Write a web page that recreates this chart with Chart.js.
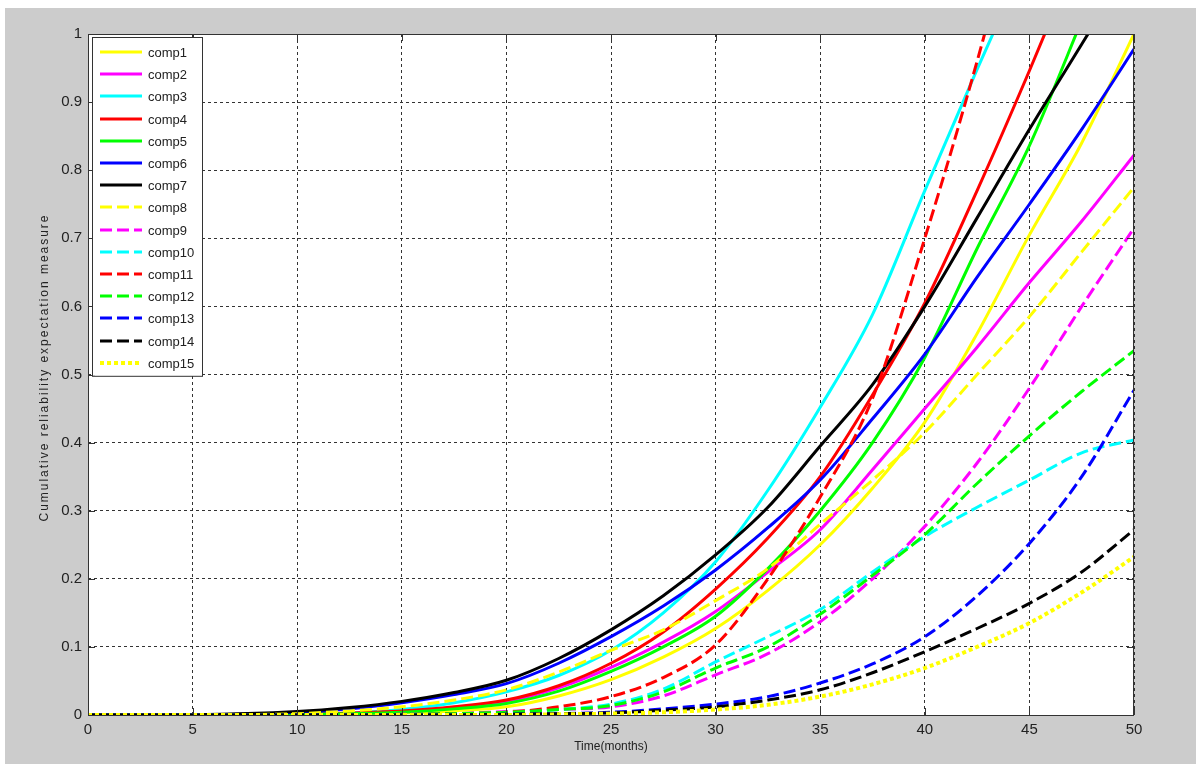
<!DOCTYPE html>
<html>
<head>
<meta charset="utf-8">
<script src="https://cdn.jsdelivr.net/npm/chart.js@4.4.1/dist/chart.umd.min.js"></script>
<style>
html,body{margin:0;padding:0;background:#ffffff;}
canvas{display:block;}
</style>
</head>
<body>
<canvas id="c" width="1196" height="764"></canvas>
<script>
// ---- data ----
const months = [0, 5, 10, 12.5, 15, 17.5, 20, 22.5, 25, 27.5, 30, 32.5, 35, 37.5, 40, 42.5, 45, 47.5, 50];

const comp1  = [0, 0, 0.0005, 0.001, 0.003, 0.006, 0.012, 0.028, 0.052, 0.085, 0.127, 0.183, 0.250, 0.333, 0.430, 0.560, 0.705, 0.840, 1.000];
const comp2  = [0, 0, 0.001, 0.002, 0.005, 0.011, 0.020, 0.040, 0.070, 0.107, 0.152, 0.210, 0.272, 0.360, 0.450, 0.540, 0.635, 0.725, 0.822];
const comp3  = [0, 0, 0.001, 0.003, 0.008, 0.018, 0.034, 0.058, 0.095, 0.150, 0.225, 0.330, 0.452, 0.588, 0.770, 0.948, 1.120, 1.290, 1.460];
const comp4  = [0, 0, 0.001, 0.003, 0.006, 0.012, 0.022, 0.043, 0.076, 0.122, 0.185, 0.260, 0.350, 0.470, 0.605, 0.770, 0.946, 1.130, 1.320];
const comp5  = [0, 0, 0.001, 0.002, 0.004, 0.009, 0.017, 0.035, 0.064, 0.100, 0.145, 0.215, 0.300, 0.400, 0.525, 0.685, 0.836, 1.020, 1.210];
const comp6  = [0, 0, 0.004, 0.009, 0.018, 0.030, 0.046, 0.076, 0.115, 0.160, 0.213, 0.275, 0.345, 0.435, 0.530, 0.643, 0.750, 0.860, 0.978];
const comp7  = [0, 0.0005, 0.005, 0.011, 0.020, 0.033, 0.051, 0.083, 0.125, 0.175, 0.235, 0.305, 0.395, 0.485, 0.600, 0.730, 0.860, 0.985, 1.110];
const comp8  = [0, 0, 0.002, 0.006, 0.012, 0.022, 0.037, 0.063, 0.095, 0.125, 0.168, 0.215, 0.280, 0.345, 0.415, 0.500, 0.585, 0.680, 0.775];
const comp9  = [0, 0, 0, 0, 0.001, 0.002, 0.005, 0.008, 0.012, 0.028, 0.059, 0.090, 0.137, 0.200, 0.277, 0.370, 0.480, 0.600, 0.715];
const comp10 = [0, 0, 0, 0, 0.001, 0.002, 0.003, 0.008, 0.016, 0.038, 0.078, 0.115, 0.155, 0.210, 0.262, 0.305, 0.345, 0.385, 0.404];
const comp11 = [0, 0, 0, 0, 0.001, 0.002, 0.004, 0.012, 0.027, 0.055, 0.103, 0.200, 0.320, 0.465, 0.700, 0.960, 1.250, 1.550, 1.850];
const comp12 = [0, 0, 0, 0, 0.001, 0.002, 0.004, 0.008, 0.014, 0.034, 0.069, 0.100, 0.148, 0.205, 0.265, 0.340, 0.410, 0.475, 0.535];
const comp13 = [0, 0, 0, 0, 0, 0, 0.001, 0.002, 0.004, 0.009, 0.016, 0.027, 0.047, 0.075, 0.115, 0.175, 0.252, 0.350, 0.477];
const comp14 = [0, 0, 0, 0, 0, 0, 0.001, 0.002, 0.003, 0.007, 0.012, 0.022, 0.037, 0.062, 0.093, 0.127, 0.164, 0.210, 0.272];
const comp15 = [0, 0, 0, 0, 0, 0, 0, 0.001, 0.002, 0.004, 0.008, 0.015, 0.027, 0.045, 0.069, 0.100, 0.135, 0.180, 0.232];

const seriesNames = ['comp1','comp2','comp3','comp4','comp5','comp6','comp7','comp8',
                     'comp9','comp10','comp11','comp12','comp13','comp14','comp15'];
const seriesValues = [comp1, comp2, comp3, comp4, comp5, comp6, comp7, comp8,
                      comp9, comp10, comp11, comp12, comp13, comp14, comp15];

const xTicks = [0, 5, 10, 15, 20, 25, 30, 35, 40, 45, 50];
const xTickLabels = ['0','5','10','15','20','25','30','35','40','45','50'];
const yTicks = [0, 0.1, 0.2, 0.3, 0.4, 0.5, 0.6, 0.7, 0.8, 0.9, 1];
const yTickLabels = ['0','0.1','0.2','0.3','0.4','0.5','0.6','0.7','0.8','0.9','1'];
const xTitle = 'Time(months)';
const yTitle = 'Cumulative reliability expectation measure';

// ---- styles ----
const seriesColors = ['#ffff00','#ff00ff','#00ffff','#ff0000','#00ff00','#0000ff','#000000',
                      '#ffff00','#ff00ff','#00ffff','#ff0000','#00ff00','#0000ff','#000000','#ffff00'];
const DASHED = [12, 5], DOTTED = [4, 3];
const seriesDash = [[],[],[],[],[],[],[], DASHED,DASHED,DASHED,DASHED,DASHED,DASHED,DASHED, DOTTED];
const FONT = '"Liberation Sans", Arial, Helvetica, sans-serif';

const datasets = seriesValues.map((vals, i) => ({
  label: seriesNames[i],
  data: months.map((m, j) => ({x: m, y: vals[j]})),
  borderColor: seriesColors[i],
  backgroundColor: seriesColors[i],
  borderWidth: i === 14 ? 4 : 3,
  borderDash: seriesDash[i],
  borderCapStyle: 'butt',
  pointRadius: 0,
  fill: false,
  cubicInterpolationMode: 'monotone',
  clip: 0,
  order: 14 - i
}));

const backgroundPlugin = {
  id: 'bg',
  beforeDraw(chart) {
    const {ctx, width, height, chartArea: a} = chart;
    ctx.save();
    ctx.fillStyle = '#ffffff';
    ctx.fillRect(0, 0, width, height);
    ctx.fillStyle = '#cccccc';
    ctx.fillRect(5, 8, width - 5, height - 8);
    ctx.fillStyle = '#ffffff';
    ctx.fillRect(a.left, a.top, a.right - a.left, a.bottom - a.top);
    ctx.restore();
  }
};

const boxPlugin = {
  id: 'box',
  afterDatasetsDraw(chart) {
    const {ctx, chartArea: a, scales} = chart;
    ctx.save();
    ctx.strokeStyle = '#333333';
    ctx.lineWidth = 1;
    ctx.setLineDash([]);
    ctx.strokeRect(a.left + 0.5, a.top + 0.5, a.right - a.left - 1, a.bottom - a.top);
    const tl = 7;
    ctx.beginPath();
    xTicks.forEach(v => {
      const px = Math.round(scales.x.getPixelForValue(v)) + 0.5;
      ctx.moveTo(px, a.bottom); ctx.lineTo(px, a.bottom - tl);
      ctx.moveTo(px, a.top); ctx.lineTo(px, a.top + tl);
    });
    yTicks.forEach(v => {
      const py = Math.round(scales.y.getPixelForValue(v)) + 0.5;
      ctx.moveTo(a.left, py); ctx.lineTo(a.left + tl, py);
      ctx.moveTo(a.right, py); ctx.lineTo(a.right - tl, py);
    });
    ctx.stroke();
    ctx.restore();
  }
};

const yTitlePlugin = {
  id: 'yTitle',
  afterDraw(chart) {
    const {ctx, chartArea: a} = chart;
    ctx.save();
    ctx.font = '12px ' + FONT;
    ctx.fillStyle = '#222222';
    ctx.textAlign = 'center';
    ctx.textBaseline = 'middle';
    const w0 = ctx.measureText(yTitle).width;
    const target = 306;
    if ('letterSpacing' in ctx) {
      ctx.letterSpacing = Math.max(0, (target - w0) / (yTitle.length - 1)).toFixed(2) + 'px';
    }
    ctx.translate(45, (a.top + a.bottom) / 2 - 7);
    ctx.rotate(-Math.PI / 2);
    ctx.fillText(yTitle, 0, 0);
    ctx.restore();
  }
};

const legendPlugin = {
  id: 'matlabLegend',
  afterDraw(chart) {
    const {ctx, chartArea: a} = chart;
    const sets = chart.data.datasets;
    const left = a.left + 4, top = a.top + 3;
    const rowH = 22.2, w = 110;
    const h = 15 + (sets.length - 1) * rowH + 13;
    ctx.save();
    ctx.fillStyle = '#ffffff';
    ctx.fillRect(left, top, w, h);
    ctx.strokeStyle = '#333333';
    ctx.lineWidth = 1;
    ctx.setLineDash([]);
    ctx.strokeRect(left + 0.5, top + 0.5, w, h);
    ctx.font = '13px ' + FONT;
    ctx.textBaseline = 'middle';
    ctx.textAlign = 'left';
    sets.forEach((ds, i) => {
      const y = Math.round(top + 15 + i * rowH);
      ctx.strokeStyle = ds.borderColor;
      ctx.lineWidth = ds.borderWidth;
      ctx.lineCap = 'butt';
      ctx.setLineDash(ds.borderDash || []);
      ctx.beginPath();
      ctx.moveTo(left + 8, y);
      ctx.lineTo(left + 50, y);
      ctx.stroke();
      ctx.setLineDash([]);
      ctx.fillStyle = '#222222';
      ctx.fillText(ds.label, left + 56, y + 1);
    });
    ctx.restore();
  }
};

new Chart(document.getElementById('c'), {
  type: 'line',
  data: {datasets},
  plugins: [backgroundPlugin, boxPlugin, yTitlePlugin, legendPlugin],
  options: {
    responsive: false,
    animation: false,
    devicePixelRatio: 1,
    layout: {padding: {left: 0, top: 34, right: 62, bottom: 0}},
    plugins: {legend: {display: false}, tooltip: {enabled: false}, title: {display: false}},
    scales: {
      x: {
        type: 'linear', min: 0, max: 50,
        afterFit(s) { s.height = 49; },
        afterBuildTicks(s) { s.ticks = xTicks.map(v => ({value: v})); },
        ticks: {
          callback: (v, i) => xTickLabels[i],
          padding: 6, maxRotation: 0, autoSkip: false,
          color: '#222222', font: {family: FONT, size: 15}
        },
        grid: {color: '#333333', lineWidth: 1, drawTicks: false},
        border: {display: false, dash: [3, 3]},
        title: {display: true, text: xTitle, color: '#222222',
                font: {family: FONT, size: 12}, padding: {top: 0, bottom: 10}}
      },
      y: {
        type: 'linear', min: 0, max: 1,
        afterFit(s) { s.width = 88; },
        afterBuildTicks(s) { s.ticks = yTicks.map(v => ({value: v})); },
        ticks: {
          callback: (v, i) => yTickLabels[i],
          padding: 6, autoSkip: false,
          color: '#222222', font: {family: FONT, size: 15}
        },
        grid: {color: '#333333', lineWidth: 1, drawTicks: false},
        border: {display: false, dash: [3, 3]},
        title: {display: false}
      }
    }
  }
});
</script>
</body>
</html>
